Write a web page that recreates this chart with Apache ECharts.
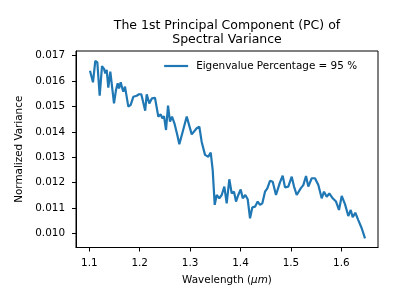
<!DOCTYPE html>
<html>
<head>
<meta charset="utf-8">
<script src="https://cdn.jsdelivr.net/npm/echarts@6/dist/echarts.min.js"></script>
<style>html,body{margin:0;padding:0;background:#fff}#c{width:398px;height:306px}</style>
</head>
<body>
<div id="c"></div>
<script>
const wavelength = [1.1014,1.1073,1.1119,1.1159,1.1206,1.1252,1.1292,1.1317,1.1345,1.1377,1.1417,1.1444,1.1490,1.1530,1.1563,1.1589,1.1623,1.1655,1.1675,1.1708,1.1774,1.1821,1.1873,1.1907,1.1940,1.1986,1.2032,1.2071,1.2109,1.2139,1.2190,1.2244,1.2303,1.2369,1.2417,1.2448,1.2482,1.2522,1.2562,1.2601,1.2641,1.2694,1.2746,1.2786,1.2853,1.2933,1.3032,1.3063,1.3131,1.3183,1.3230,1.3296,1.3361,1.3409,1.3448,1.3488,1.3528,1.3579,1.3627,1.3679,1.3726,1.3778,1.3825,1.3871,1.3911,1.3956,1.4004,1.4044,1.4095,1.4143,1.4189,1.4234,1.4288,1.4341,1.4387,1.4433,1.4486,1.4532,1.4585,1.4639,1.4704,1.4781,1.4837,1.4883,1.4948,1.5016,1.5062,1.5115,1.5194,1.5246,1.5300,1.5345,1.5413,1.5478,1.5544,1.5611,1.5657,1.5710,1.5762,1.5829,1.5895,1.5954,1.6008,1.6073,1.6139,1.6187,1.6226,1.6278,1.6337,1.6405,1.6470];
const variance = [0.01641,0.01595,0.01680,0.01674,0.01542,0.01659,0.01648,0.01630,0.01644,0.01574,0.01637,0.01630,0.01512,0.01565,0.01591,0.01571,0.01595,0.01571,0.01558,0.01578,0.01499,0.01506,0.01538,0.01534,0.01542,0.01548,0.01548,0.01548,0.01483,0.01548,0.01512,0.01532,0.01534,0.01460,0.01469,0.01453,0.01462,0.01407,0.01503,0.01440,0.01460,0.01430,0.01387,0.01351,0.01400,0.01460,0.01390,0.01394,0.01414,0.01420,0.01360,0.01309,0.01302,0.01318,0.01250,0.01112,0.01151,0.01138,0.01151,0.01184,0.01118,0.01213,0.01158,0.01164,0.01125,0.01151,0.01173,0.01138,0.01151,0.01134,0.01059,0.01102,0.01105,0.01125,0.01112,0.01118,0.01164,0.01177,0.01207,0.01203,0.01151,0.01200,0.01227,0.01181,0.01184,0.01223,0.01184,0.01151,0.01177,0.01190,0.01226,0.01184,0.01217,0.01217,0.01190,0.01138,0.01164,0.01144,0.01157,0.01138,0.01125,0.01092,0.01147,0.01115,0.01068,0.01092,0.01063,0.01081,0.01052,0.01020,0.00980];
const xTicks = [1.1,1.2,1.3,1.4,1.5,1.6];
const yTicks = [0.010,0.011,0.012,0.013,0.014,0.015,0.016,0.017];
const seriesName = 'Eigenvalue Percentage = 95 %';

const font = 'DejaVu Sans';
const chart = echarts.init(document.getElementById('c'), null, {renderer:'canvas'});
chart.setOption({
  animation: false,
  title: {
    text: 'The 1st Principal Component (PC) of\nSpectral Variance',
    left: 227, top: 19, textAlign: 'center', padding: 0,
    textStyle: {fontFamily: font, fontSize: 12.5, fontWeight: 'normal', color: '#000', lineHeight: 13.5}
  },
  legend: {
    right: 41, top: 61, padding: 0,
    icon: 'rect', itemWidth: 24, itemHeight: 2.2,
    data: [seriesName],
    textStyle: {fontFamily: font, fontSize: 10.4, color: '#000', padding: [0,0,0,3]}
  },
  grid: {left: 76, right: 20, top: 51, bottom: 58.5, show: true, borderColor: '#000', borderWidth: 1, containLabel: false},
  xAxis: {
    type: 'value', min: 1.0736, max: 1.6728,
    name: 'Wavelength ({i|μm})', nameLocation: 'middle', nameGap: 28,
    nameTextStyle: {fontFamily: font, fontSize: 10.4, color: '#000', verticalAlign: 'top',
      rich: {i: {fontFamily: font, fontSize: 10.4, fontStyle: 'italic', color: '#000'}}},
    axisLine: {show: true, lineStyle: {color: '#000', width: 1}},
    axisTick: {show: true, length: 4, customValues: xTicks, lineStyle: {color: '#000'}},
    axisLabel: {customValues: xTicks, margin: 11, fontFamily: font, fontSize: 10.4, color: '#000',
      formatter: v => v.toFixed(1)},
    splitLine: {show: false}
  },
  yAxis: {
    type: 'value', min: 0.00944, max: 0.017185,
    name: 'Normalized Variance', nameLocation: 'middle', nameGap: 46, nameRotate: 90,
    nameTextStyle: {fontFamily: font, fontSize: 10.4, color: '#000'},
    axisLine: {show: true, lineStyle: {color: '#000', width: 1}},
    axisTick: {show: true, length: 4, customValues: yTicks, lineStyle: {color: '#000'}},
    axisLabel: {customValues: yTicks, margin: 11, fontFamily: font, fontSize: 10.4, color: '#000',
      formatter: v => v.toFixed(3)},
    splitLine: {show: false}
  },
  series: [{
    name: seriesName, type: 'line', showSymbol: false, symbol: 'none',
    data: wavelength.map((w, i) => [w, variance[i]]),
    lineStyle: {color: '#1f77b4', width: 2.2},
    itemStyle: {color: '#1f77b4'}
  }]
});
</script>
</body>
</html>
